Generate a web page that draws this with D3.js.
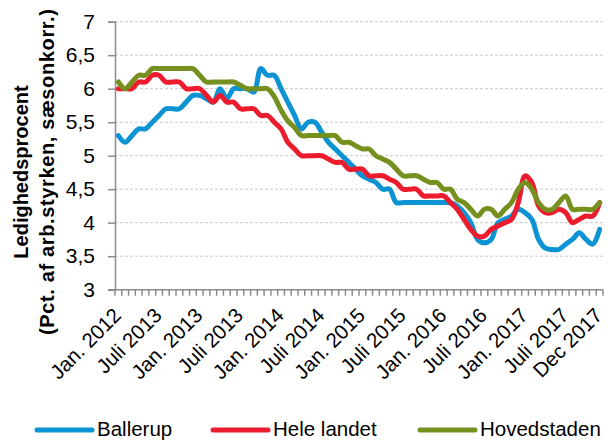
<!DOCTYPE html>
<html>
<head>
<meta charset="utf-8">
<script src="https://cdn.jsdelivr.net/npm/d3@7"></script>
<style>
html,body{margin:0;padding:0;background:#fff;}
svg{display:block;font-family:"Liberation Sans",Arial,sans-serif;}
</style>
</head>
<body>
<svg id="chart" width="608" height="440"></svg>
<script>
// ---- data ----
const years = [2012, 2013, 2014, 2015, 2016, 2017];
const categories = [];
years.forEach(yr => { for (let m = 1; m <= 12; m++) categories.push(yr + "-" + String(m).padStart(2, "0")); });

const tickCategories = ["2012-01","2012-07","2013-01","2013-07","2014-01","2014-07","2015-01","2015-07","2016-01","2016-07","2017-01","2017-07","2017-12"];
const tickLabels = ["Jan. 2012","Juli 2013","Jan. 2013","Juli 2013","Jan. 2014","Juli 2014","Jan. 2015","Juli 2015","Jan. 2016","Juli 2016","Jan. 2017","Juli 2017","Dec 2017"];

const yTicks = [3, 3.5, 4, 4.5, 5, 5.5, 6, 6.5, 7];

const seriesNames = ["Ballerup", "Hele landet", "Hovedstaden"];

const ballerup = [5.3,5.2,5.3,5.4,5.4,5.5,5.6,5.7,5.7,5.7,5.8,5.9,
                  5.9,5.85,5.8,6.0,5.85,6.0,6.0,6.0,5.95,6.3,6.2,6.2,
                  6.0,5.8,5.6,5.4,5.5,5.5,5.35,5.2,5.1,5.0,4.9,4.8,
                  4.7,4.65,4.6,4.5,4.5,4.3,4.3,4.3,4.3,4.3,4.3,4.3,
                  4.3,4.3,4.25,4.15,4.0,3.75,3.7,3.75,4.0,4.05,4.1,4.2,
                  4.15,4.05,3.75,3.62,3.6,3.6,3.68,3.75,3.85,3.75,3.68,3.9];

const heleLandet = [6.0,6.0,6.0,6.1,6.1,6.2,6.2,6.1,6.1,6.1,6.0,6.0,
                    6.0,5.9,5.8,5.9,5.8,5.8,5.7,5.7,5.7,5.6,5.6,5.5,
                    5.4,5.2,5.1,5.0,5.0,5.0,5.0,4.95,4.9,4.9,4.8,4.8,
                    4.8,4.7,4.7,4.7,4.65,4.6,4.5,4.5,4.5,4.4,4.4,4.4,
                    4.4,4.3,4.2,4.05,3.9,3.8,3.8,3.9,3.95,4.0,4.05,4.3,
                    4.7,4.6,4.25,4.15,4.15,4.2,4.15,4.0,4.05,4.1,4.1,4.3];

const hovedstaden = [6.1,6.0,6.1,6.2,6.2,6.3,6.3,6.3,6.3,6.3,6.3,6.3,
                     6.2,6.1,6.1,6.1,6.1,6.1,6.05,6.0,6.0,6.0,6.0,5.88,
                     5.68,5.52,5.42,5.3,5.3,5.3,5.3,5.3,5.3,5.2,5.2,5.15,
                     5.1,5.1,5.0,4.95,4.9,4.8,4.7,4.7,4.7,4.65,4.6,4.6,
                     4.5,4.5,4.35,4.3,4.2,4.1,4.2,4.2,4.1,4.2,4.3,4.5,
                     4.6,4.5,4.3,4.2,4.2,4.3,4.4,4.2,4.2,4.2,4.2,4.3];

const seriesValues = [ballerup, heleLandet, hovedstaden];
const colors = ["#0b93d3", "#ec1b2e", "#76901f"];

// ---- layout ----
const svg = d3.select("#chart");
const plotL = 115, plotR = 603, plotT = 21.7, plotB = 289.7;
const axisColor = "#8c8c8c";

const x = d3.scaleBand().domain(categories).range([plotL, plotR]).padding(0);
const xc = c => x(c) + x.bandwidth() / 2;
const y = d3.scaleLinear().domain([3, 7]).range([plotB, plotT]);

// gridlines
svg.append("g").selectAll("line").data(yTicks.slice(1)).join("line")
  .attr("x1", plotL).attr("x2", plotR)
  .attr("y1", d => y(d)).attr("y2", d => y(d))
  .attr("stroke", "#c8c8c8").attr("stroke-width", 1)
  .attr("stroke-dasharray", "3,2");

// y axis
const yAxis = d3.axisLeft(y).tickValues(yTicks).tickSize(7).tickPadding(13)
  .tickFormat(d => String(d).replace(".", ","));
const gy = svg.append("g").attr("transform", `translate(${plotL},0)`).call(yAxis);
gy.select(".domain").attr("stroke", axisColor).attr("stroke-width", 1.5);
gy.selectAll(".tick line").attr("stroke", axisColor).attr("stroke-width", 1.5);
gy.selectAll(".tick text").attr("font-size", 21).attr("fill", "#000")
  .attr("font-family", "Liberation Sans, Arial, sans-serif");

// x axis: ticks at category boundaries
const boundaries = categories.map(c => x(c)).concat([plotR]);
const gx = svg.append("g");
gx.append("line").attr("x1", plotL - 7).attr("x2", plotR)
  .attr("y1", plotB).attr("y2", plotB)
  .attr("stroke", axisColor).attr("stroke-width", 1.5);
gx.selectAll("line.tk").data(boundaries).join("line").attr("class", "tk")
  .attr("x1", d => d).attr("x2", d => d)
  .attr("y1", plotB).attr("y2", plotB + 6)
  .attr("stroke", axisColor).attr("stroke-width", 1.5);

gx.selectAll("text").data(tickCategories).join("text")
  .attr("transform", d => `translate(${xc(d) + 4},${plotB + 27}) rotate(-45)`)
  .attr("text-anchor", "end")
  .attr("font-size", 20.5).attr("fill", "#000")
  .text((d, i) => tickLabels[i]);

// lines
const line = d3.line()
  .x((d, i) => xc(categories[i]))
  .y(d => y(d))
  .curve(d3.curveCatmullRom.alpha(0.5));

svg.append("g").selectAll("path").data(seriesValues).join("path")
  .attr("d", d => line(d))
  .attr("fill", "none")
  .attr("stroke", (d, i) => colors[i])
  .attr("stroke-width", 5)
  .attr("stroke-linejoin", "round")
  .attr("stroke-linecap", "round");

// y title
const midY = 172;
svg.append("text")
  .attr("transform", `translate(28,${midY}) rotate(-90)`)
  .attr("text-anchor", "middle").attr("font-weight", "bold").attr("font-size", 20)
  .text("Ledighedsprocent");
svg.append("text")
  .attr("transform", `translate(54,${midY}) rotate(-90)`)
  .attr("text-anchor", "middle").attr("font-weight", "bold").attr("font-size", 20)
  .attr("textLength", 326).attr("lengthAdjust", "spacing")
  .text("(Pct. af arb.styrken, sæsonkorr.)");

// legend
const legendX = [37, 213, 420];
const lg = svg.append("g");
seriesNames.forEach((name, i) => {
  lg.append("line").attr("x1", legendX[i]).attr("x2", legendX[i] + 55)
    .attr("y1", 430).attr("y2", 430)
    .attr("stroke", colors[i]).attr("stroke-width", 5).attr("stroke-linecap", "round");
  lg.append("text").attr("x", legendX[i] + 60).attr("y", 435.5)
    .attr("font-size", 20.5).attr("fill", "#000").text(name);
});
</script>
</body>
</html>
